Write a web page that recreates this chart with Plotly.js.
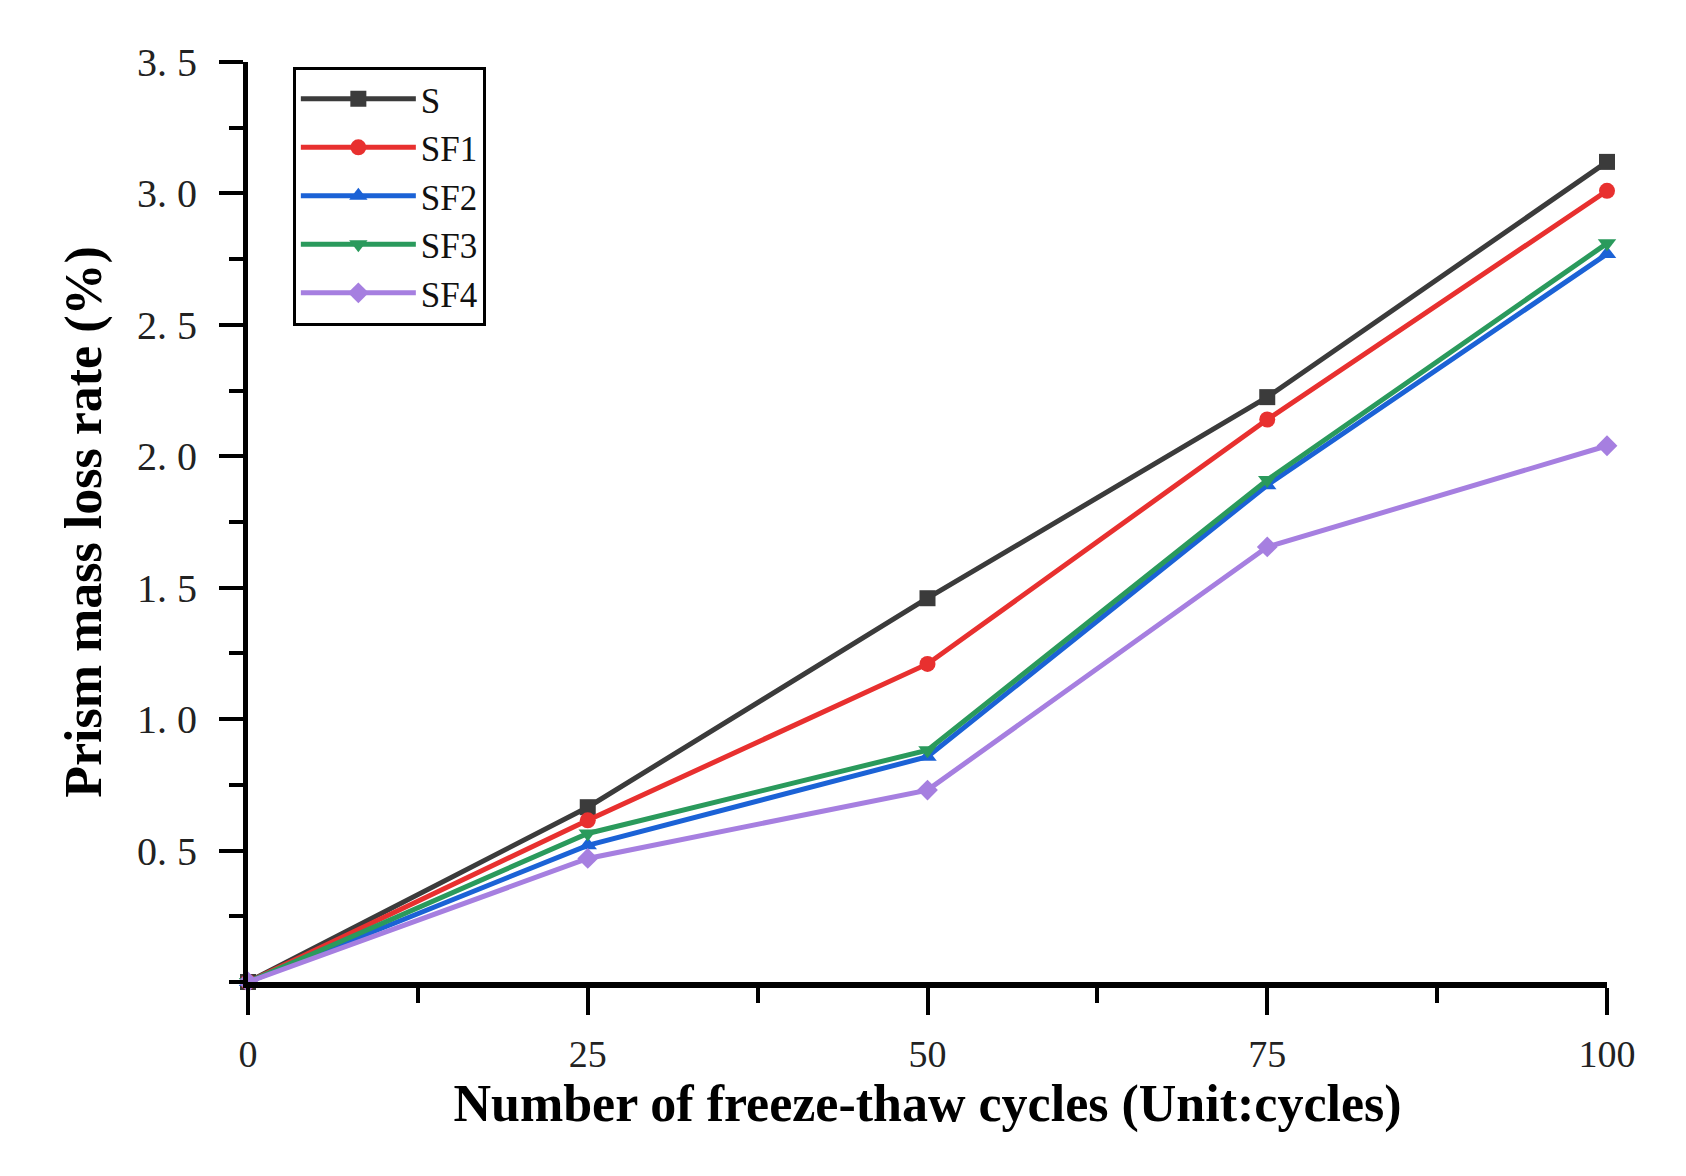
<!DOCTYPE html>
<html>
<head>
<meta charset="utf-8">
<script src="https://cdn.plot.ly/plotly-3.0.1.min.js"></script>
<style>
  body { margin: 0; background: #fff; }
  #graph { width: 1686px; height: 1176px; }
</style>
</head>
<body>
<div id="graph"></div>
<script>
// freeze-thaw cycles
const cycles = [0, 25, 50, 75, 100];

// mass loss rate (%) per mix
const seriesNames = ['S', 'SF1', 'SF2', 'SF3', 'SF4'];
const lossS   = [0, 0.665, 1.46, 2.225, 3.12];
const lossSF1 = [0, 0.615, 1.21, 2.14, 3.01];
const lossSF2 = [0, 0.52, 0.857, 1.89, 2.77];
const lossSF3 = [0, 0.565, 0.882, 1.91, 2.81];
const lossSF4 = [0, 0.47, 0.73, 1.655, 2.04];

const yTickVals = [0.5, 1.0, 1.5, 2.0, 2.5, 3.0, 3.5];
const yTickText = ['0. 5', '1. 0', '1. 5', '2. 0', '2. 5', '3. 0', '3. 5'];
const xTickVals = [0, 25, 50, 75, 100];

const colors = ['#3b3b3b', '#e8302f', '#1b62d6', '#2a9a5c', '#a67fe0'];
const symbols = ['square', 'circle', 'triangle-up', 'triangle-down', 'diamond'];
const allLoss = [lossS, lossSF1, lossSF2, lossSF3, lossSF4];

const traces = seriesNames.map(function (name, i) {
  return {
    x: cycles,
    y: allLoss[i],
    name: name,
    mode: 'lines+markers',
    line: { color: colors[i], width: 5 },
    marker: { color: colors[i], size: 16, symbol: symbols[i] },
    cliponaxis: false
  };
});

const serif = 'Liberation Serif, Times New Roman, serif';

const layout = {
  width: 1686,
  height: 1176,
  paper_bgcolor: '#fff',
  plot_bgcolor: '#fff',
  margin: { l: 248, r: 79, t: 62, b: 194, pad: 0 },
  showlegend: true,
  legend: {
    x: 0.033, y: 0.995,
    xanchor: 'left', yanchor: 'top',
    bordercolor: '#000', borderwidth: 3,
    bgcolor: '#fff',
    font: { family: serif, size: 35, color: '#111' },
    tracegroupgap: 0,
    itemwidth: 115
  },
  xaxis: {
    range: [0, 100],
    tickvals: xTickVals,
    ticks: 'outside', ticklen: 27, tickwidth: 4, tickcolor: '#000',
    ticklabelstandoff: 6,
    minor: { dtick: 12.5, ticks: 'outside', ticklen: 15, tickwidth: 4, tickcolor: '#000' },
    showline: true, linewidth: 6, linecolor: '#000',
    showgrid: false, zeroline: false,
    tickfont: { family: serif, size: 38, color: '#222' },
    title: {
      text: 'Number of freeze-thaw cycles (Unit:cycles)',
      font: { family: serif, size: 52, color: '#000', weight: 'bold' },
      standoff: 12
    }
  },
  yaxis: {
    range: [0, 3.5],
    tickvals: yTickVals,
    ticktext: yTickText,
    ticks: 'outside', ticklen: 24, tickwidth: 4, tickcolor: '#000',
    ticklabelstandoff: 14,
    minor: { dtick: 0.25, ticks: 'outside', ticklen: 14, tickwidth: 4, tickcolor: '#000' },
    showline: true, linewidth: 5, linecolor: '#000',
    showgrid: false, zeroline: false,
    tickfont: { family: serif, size: 40, color: '#222' },
    title: {
      text: 'Prism mass loss rate (%)',
      font: { family: serif, size: 52, color: '#000', weight: 'bold' },
      standoff: 20
    }
  }
};

Plotly.newPlot('graph', traces, layout, { displayModeBar: false, staticPlot: true });
</script>
</body>
</html>
